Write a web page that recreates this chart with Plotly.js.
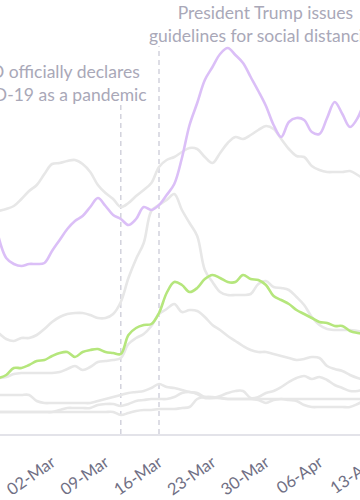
<!DOCTYPE html>
<html>
<head>
<meta charset="utf-8">
<script src="https://cdn.plot.ly/plotly-3.0.1.min.js"></script>
<style>
  html, body { margin: 0; padding: 0; background: #ffffff; overflow: hidden; width: 360px; height: 500px; }
  #chart { position: absolute; left: -60px; top: 0; width: 480px; height: 500px; }
</style>
</head>
<body>
<div id="chart"></div>
<script>
// Daily dates
const dates = [
  '2020-02-24','2020-02-25','2020-02-26','2020-02-27','2020-02-28','2020-02-29',
  '2020-03-01','2020-03-02','2020-03-03','2020-03-04','2020-03-05','2020-03-06','2020-03-07',
  '2020-03-08','2020-03-09','2020-03-10','2020-03-11','2020-03-12','2020-03-13','2020-03-14',
  '2020-03-15','2020-03-16','2020-03-17','2020-03-18','2020-03-19','2020-03-20','2020-03-21',
  '2020-03-22','2020-03-23','2020-03-24','2020-03-25','2020-03-26','2020-03-27','2020-03-28',
  '2020-03-29','2020-03-30','2020-03-31','2020-04-01','2020-04-02','2020-04-03','2020-04-04',
  '2020-04-05','2020-04-06','2020-04-07','2020-04-08','2020-04-09','2020-04-10','2020-04-11',
  '2020-04-12'
];

// Weekly tick marks and their labels
const tickDates = ['2020-03-02','2020-03-09','2020-03-16','2020-03-23','2020-03-30','2020-04-06','2020-04-13'];
const tickLabels = ['02-Mar','09-Mar','16-Mar','23-Mar','30-Mar','06-Apr','13-Apr'];

// Relative interest values (arbitrary units, no y scale shown)
const purpleSeries = [197,176,170,168,170,170,171,183,194,205,213,218,227,236,228,219,215,209,215,227,224,229,239,250,276,309,331,354,367,380,386,379,371,357,343,328,309,297,312,316,314,302,300,316,332,320,307,316,336];
const greenSeries  = [56,59,66,66,69,73,74,78,81,82,77,82,84,85,82,81,80,99,106,109,110,121,141,152,149,142,146,155,159,156,152,152,159,155,154,149,138,134,130,124,120,116,112,111,108,108,103,101,100];
const grayA = [223,225,228,235,243,249,260,270,271,273,274,270,262,249,241,235,227,231,238,244,251,267,274,277,282,286,285,277,271,281,291,297,295,299,304,308,305,295,285,278,277,268,264,262,262,262,263,259,254];
const grayB = [101,95,93,96,96,99,105,112,117,120,121,121,119,116,116,120,132,156,175,191,223,229,234,240,224,211,198,164,152,142,139,139,139,140,150,153,147,146,144,137,129,117,109,105,104,104,104,103,102];
const grayC = [56,57,60,61,61,61,61,61,62,65,68,64,67,72,73,74,76,90,96,100,108,120,125,130,122,124,123,117,109,104,98,93,88,84,82,82,80,78,76,74,75,77,76,68,65,63,59,56,54];
const grayD = [39,39,39,39,39,33,31,31,31,31,31,31,31,33,35,37,39,41,42,43,46,50,47,46,44,42,41,37,36,38,41,43,43,36,37,41,43,47,52,56,58,55,57,54,49,46,43,43,45];
const grayE = [22,22,22,22,22,22,22,22,24,26,26,26,26,29,30,30,28,30,33,34,35,35,35,37,41,42,40,36,36,36,35,35,35,35,35,35,35,35,34,33,29,27,27,27,27,27,27,30,34];
const grayF = [22,22,22,22,22,22,22,22,22,22,22,22,22,22,22,22,19,21,23,24,24,25,25,25,26,27,35,37,37,36,35,35,35,35,34,31,34,35,35,35,35,35,35,35,35,35,35,35,35];

// Events
const eventDates = ['2020-03-11', '2020-03-16'];
const eventTops = [329, 388];
const eventLabels = ['WHO officially declares<br>COVID-19 as a pandemic', 'President Trump issues<br>guidelines for social distancing'];
const eventLabelX = ['2020-03-01 17:00', '2020-03-30'];
const eventLabelY = [375, 433.9];

const grayColor = '#e7e7e7';
const traces = [];
[grayF, grayE, grayD, grayC, grayB, grayA].forEach(s => {
  traces.push({x: dates, y: s, type: 'scatter', mode: 'lines',
    line: {color: grayColor, width: 2.6, shape: 'spline', smoothing: 1}, hoverinfo: 'skip'});
});
traces.push({x: dates, y: greenSeries, type: 'scatter', mode: 'lines',
  line: {color: '#b5e67c', width: 2.6, shape: 'spline', smoothing: 1}});
traces.push({x: dates, y: purpleSeries, type: 'scatter', mode: 'lines',
  line: {color: '#dbbff7', width: 2.6, shape: 'spline', smoothing: 1}});

const shapes = eventDates.map((d, i) => ({
  type: 'line', xref: 'x', yref: 'y', x0: d, x1: d, y0: 0, y1: eventTops[i],
  line: {color: '#cfcfda', width: 1.4, dash: '5px,4px'}, layer: 'below'
}));

const annotations = eventLabels.map((t, i) => ({
  text: t, xref: 'x', yref: 'y', x: eventLabelX[i], y: eventLabelY[i],
  xanchor: 'center', yanchor: 'top', showarrow: false, align: 'center',
  font: {family: 'Lato, sans-serif', size: 17.5, color: '#a9a8b8'}
}));

const layout = {
  width: 480, height: 500,
  margin: {l: 0, r: 0, t: 0, b: 66},
  paper_bgcolor: '#ffffff', plot_bgcolor: '#ffffff',
  showlegend: false,
  xaxis: {
    type: 'date',
    range: ['2020-02-16 08:02', '2020-04-19 03:53'],
    tickmode: 'array', tickvals: tickDates, ticktext: tickLabels,
    tickangle: -35,
    showgrid: false, zeroline: false,
    showline: true, linecolor: '#e3e3e9', linewidth: 1.5,
    ticks: '', ticklabelstandoff: 11,
    tickfont: {family: 'Lato, sans-serif', size: 16.5, color: '#706f84'},
    fixedrange: true
  },
  yaxis: {range: [0, 434], visible: false, fixedrange: true},
  shapes: shapes,
  annotations: annotations
};

Plotly.newPlot('chart', traces, layout, {displayModeBar: false, staticPlot: true});
</script>
</body>
</html>
